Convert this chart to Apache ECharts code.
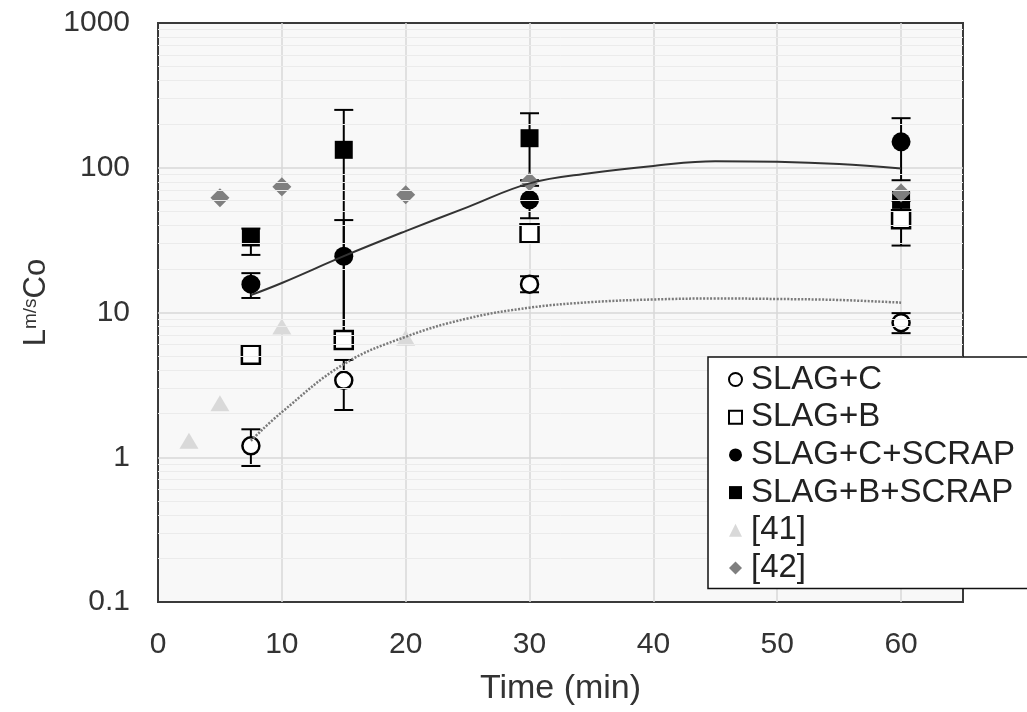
<!DOCTYPE html>
<html>
<head>
<meta charset="utf-8">
<script src="https://cdn.jsdelivr.net/npm/echarts@6/dist/echarts.min.js"></script>
<style>
html,body{margin:0;padding:0;background:#fff;}
#c{width:1027px;height:712px;}
</style>
</head>
<body>
<div id="c"></div>
<script>
// ---- data ----
const timeMain = [7.5, 15, 30, 60];
const slagC = [1.2, 3.4, 15.7, 8.5];
const slagCLow = [0.87, 2.12, 13.8, 7.2];
const slagCHigh = [1.56, 4.7, 17.8, 9.9];
const slagB = [5.1, 6.45, 35.3, 44];
const slagBLow = [null, null, null, 29];
const slagBHigh = [null, null, null, 59];
const slagCScrap = [15.7, 24.5, 60, 151];
const slagCScrapLow = [12.6, 6.45, 44.8, 82];
const slagCScrapHigh = [18.7, 43.5, 75, 220];
const slagBScrap = [33, 133, 160, 60];
const slagBScrapLow = [25, 6.45, 82, null];
const slagBScrapHigh = [38, 251, 238, null];
const time41 = [2.5, 5, 10, 20];
const ref41 = [1.3, 2.36, 8.0, 6.7];
const time42 = [5, 10, 20, 30, 60];
const ref42 = [62, 74, 65, 80, 67];
const trendTime = [7.5, 10, 15, 20, 25, 30, 35, 40, 45, 50, 55, 60];
const trendCScrap = [13.2, 16, 24.5, 36.5, 53.5, 78, 92, 103, 111, 110, 106, 99];
const trendC = [1.3, 2.05, 4.4, 6.8, 9.1, 10.8, 11.8, 12.3, 12.5, 12.4, 12.2, 11.7];
const xTicks = [0, 10, 20, 30, 40, 50, 60];
const yTicks = [0.1, 1, 10, 100, 1000];
const names = ['SLAG+C', 'SLAG+B', 'SLAG+C+SCRAP', 'SLAG+B+SCRAP', '[41]', '[42]'];

const FONT = '"Liberation Sans", Arial, sans-serif';
const pairs = (xs, ys) => xs.map((x, i) => [x, ys[i]]);
const errs = (xs, lo, hi) => xs.map((x, i) => [x, lo[i], hi[i]]).filter(d => d[1] != null && d[2] != null);

// minor grid lines at 2..9 x decade (log-spaced, as in the source)
const minorGrid = [];
for (let d = 0; d < 4; d++) {
  for (let k = 2; k <= 9; k++) minorGrid.push(yTicks[d] * k);
}

function errRender(params, api) {
  const x = api.value(0), lo = api.value(1), hi = api.value(2);
  const t = api.coord([x, hi]);
  const b = api.coord([x, lo]);
  const w = 9.5;
  const st = { stroke: '#000', lineWidth: 2 };
  return {
    type: 'group',
    children: [
      { type: 'line', shape: { x1: t[0], y1: t[1], x2: b[0], y2: b[1] }, style: st },
      { type: 'line', shape: { x1: t[0] - w, y1: t[1], x2: t[0] + w, y2: t[1] }, style: st },
      { type: 'line', shape: { x1: b[0] - w, y1: b[1], x2: b[0] + w, y2: b[1] }, style: st }
    ]
  };
}
function errSeries(data) {
  return {
    type: 'custom', renderItem: errRender, data: data, z: 3, silent: true,
    encode: { x: 0, y: [1, 2] }
  };
}

const chart = echarts.init(document.getElementById('c'), null, { renderer: 'canvas' });
chart.setOption({
  animation: false,
  backgroundColor: '#fff',
  grid: {
    left: 158, top: 23, right: 64, bottom: 110,
    show: true, backgroundColor: '#f8f8f8', borderColor: '#3a3a3a', borderWidth: 2
  },
  xAxis: {
    type: 'value', min: 0, max: 65, interval: 10,
    name: 'Time (min)', nameLocation: 'middle', nameGap: 70,
    nameTextStyle: { fontFamily: FONT, fontSize: 34, color: '#333' },
    axisLine: { show: false }, axisTick: { show: false },
    axisLabel: {
      fontFamily: FONT, fontSize: 30, color: '#333', margin: 28,
      showMaxLabel: false,
      formatter: v => (xTicks.indexOf(v) >= 0 ? String(v) : '')
    },
    splitLine: { show: true, showMinLine: false, showMaxLine: false, lineStyle: { color: '#d9d9d9', width: 1.5 } }
  },
  yAxis: {
    type: 'log', logBase: 10, min: 0.1, max: 1000,
    name: '{a|L}{b|m/s}{a|Co}', nameLocation: 'middle', nameGap: 100,
    nameTextStyle: {
      padding: [0, 0, 0, 20],
      rich: {
        a: { fontFamily: FONT, fontSize: 31, color: '#333' },
        b: { fontFamily: FONT, fontSize: 19, color: '#333', verticalAlign: 'top' }
      }
    },
    axisLine: { show: false }, axisTick: { show: false },
    axisLabel: {
      fontFamily: FONT, fontSize: 30, color: '#333', margin: 28,
      formatter: v => String(Number(Number(v).toPrecision(3)))
    },
    splitLine: { show: true, showMinLine: false, showMaxLine: false, lineStyle: { color: '#d9d9d9', width: 1.5 } }
  },
  legend: {
    orient: 'vertical', left: 708, top: 357, z: 20,
    backgroundColor: '#fff', borderColor: '#111', borderWidth: 1.5, borderRadius: 0,
    padding: [6, 40, 4, 20],
    itemWidth: 13, itemHeight: 13, itemGap: 4.7,
    textStyle: { fontFamily: FONT, fontSize: 33, color: '#222', lineHeight: 32, padding: [0, 0, 0, 4] },
    data: names
  },
  series: [
    {
      name: 'grid-minor', type: 'line', data: [], silent: true, z: 1,
      markLine: {
        silent: true, symbol: 'none', label: { show: false },
        lineStyle: { color: '#ebebeb', width: 1, type: 'solid' },
        data: minorGrid.map(v => ({ yAxis: v }))
      }
    },
    errSeries(errs(timeMain, slagCLow, slagCHigh)),
    errSeries(errs(timeMain, slagBLow, slagBHigh)),
    errSeries(errs(timeMain, slagCScrapLow, slagCScrapHigh)),
    errSeries(errs(timeMain, slagBScrapLow, slagBScrapHigh)),
    {
      name: 'SLAG+C', type: 'scatter', data: pairs(timeMain, slagC), z: 4,
      symbol: 'circle', symbolSize: 17,
      itemStyle: { color: '#fff', borderColor: '#000', borderWidth: 2.5, opacity: 1 }
    },
    {
      name: 'SLAG+B', type: 'scatter', data: pairs(timeMain, slagB), z: 4,
      symbol: 'rect', symbolSize: 18,
      itemStyle: { color: '#fff', borderColor: '#000', borderWidth: 2.5, opacity: 1 }
    },
    {
      name: 'SLAG+C+SCRAP', type: 'scatter', data: pairs(timeMain, slagCScrap), z: 4,
      symbol: 'circle', symbolSize: 19,
      itemStyle: { color: '#000', opacity: 1 }
    },
    {
      name: 'SLAG+B+SCRAP', type: 'scatter', data: pairs(timeMain, slagBScrap), z: 4,
      symbol: 'rect', symbolSize: 18,
      itemStyle: { color: '#000', opacity: 1 }
    },
    {
      name: '[41]', type: 'scatter', data: pairs(time41, ref41), z: 4,
      symbol: 'triangle', symbolSize: [19, 16],
      itemStyle: { color: '#d9d9d9', opacity: 1 }
    },
    {
      name: '[42]', type: 'scatter', data: pairs(time42, ref42), z: 4,
      symbol: 'diamond', symbolSize: 19,
      itemStyle: { color: '#7f7f7f', opacity: 1 }
    },
    {
      name: 'trend SLAG+C+SCRAP', type: 'line', data: pairs(trendTime, trendCScrap), z: 5,
      smooth: 0.4, showSymbol: false, symbol: 'none', silent: true,
      lineStyle: { color: '#333', width: 2 }
    },
    {
      name: 'trend SLAG+C', type: 'line', data: pairs(trendTime, trendC), z: 5,
      smooth: 0.4, showSymbol: false, symbol: 'none', silent: true,
      lineStyle: { color: '#7a7a7a', width: 2.5, type: [2, 1.5] }
    }
  ]
});
</script>
</body>
</html>
